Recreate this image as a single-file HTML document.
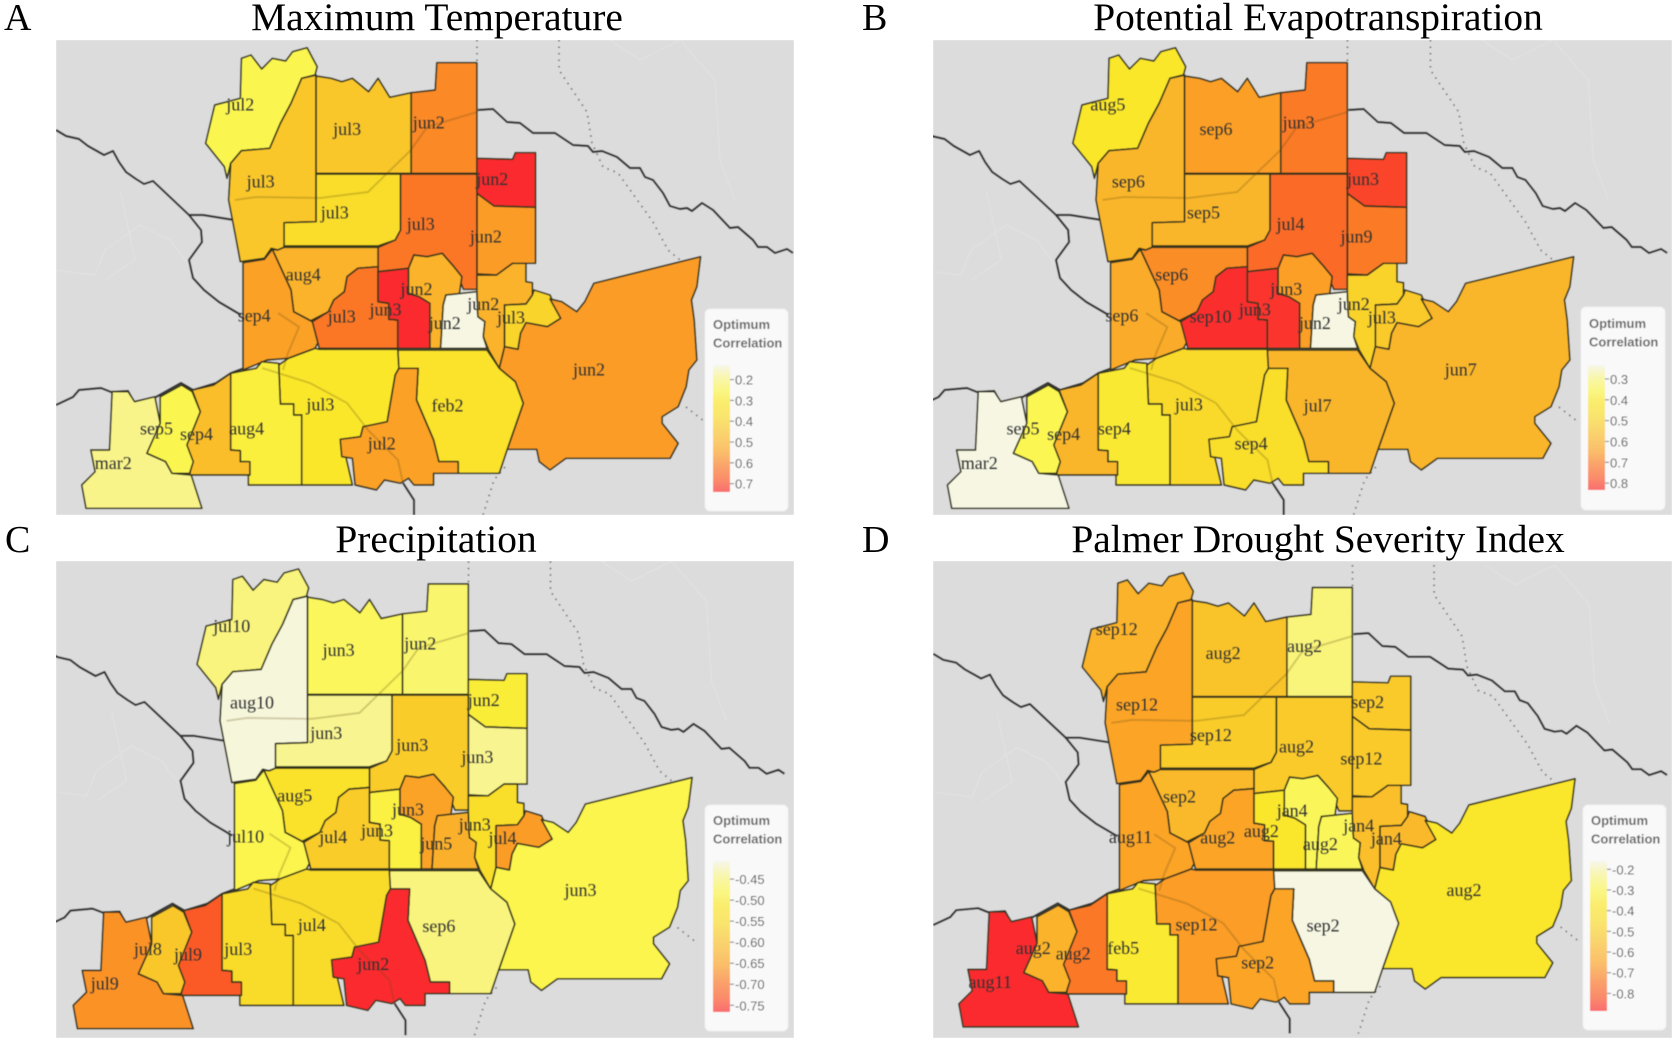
<!DOCTYPE html>
<html lang="en">
<head>
<meta charset="utf-8">
<title>Optimum Correlation Maps</title>
<style>
html,body{margin:0;padding:0;background:#fff;width:1675px;height:1043px;overflow:hidden;}
svg{display:block;}
.title{font-family:"Liberation Serif",serif;font-size:39.4px;fill:#000;text-anchor:middle;}
.letter{font-family:"Liberation Serif",serif;font-size:38px;fill:#000;}
.county-label{font-family:"Liberation Serif",serif;font-size:18px;fill:#333;text-anchor:middle;}
.legend-title{font-family:"Liberation Sans",sans-serif;font-size:13px;font-weight:bold;fill:#666;}
.legend-tick{font-family:"Liberation Sans",sans-serif;font-size:13px;fill:#555;}
</style>
</head>
<body>
<svg id="figure" xmlns="http://www.w3.org/2000/svg" width="1675" height="1043" viewBox="0 0 1675 1043">
  <defs>
    <filter id="soft" x="0" y="0" width="1675" height="1043" filterUnits="userSpaceOnUse"><feGaussianBlur stdDeviation="0.65"/></filter>
  </defs>
  <rect width="1675" height="1043" fill="#fff"/>
  <text class="letter" x="4" y="30">A</text>
  <text class="title" x="437" y="30">Maximum Temperature</text>
  <text class="letter" x="862" y="30">B</text>
  <text class="title" x="1318" y="30">Potential Evapotranspiration</text>
  <text class="letter" x="5" y="552">C</text>
  <text class="title" x="436" y="552">Precipitation</text>
  <text class="letter" x="862" y="552">D</text>
  <text class="title" x="1318" y="552">Palmer Drought Severity Index</text>
</svg>
<script>
/* Correlation values per county */
const maxTempValues = [.25,.44,.44,.59,.74,.56,.62,.37,.50,.55,.62,.74,.50,.13,.50,.40,.56,.33,.31,.55,.28,.47,.25,.19];
const petValues = [.41,.59,.65,.71,.80,.71,.74,.59,.68,.62,.83,.82,.65,.23,.50,.53,.59,.59,.48,.46,.40,.59,.35,.23];
const precipValues = [-.45,-.41,-.47,-.46,-.50,-.44,-.58,-.44,-.53,-.48,-.58,-.49,-.65,-.63,-.54,-.66,-.48,-.45,-.55,-.77,-.55,-.73,-.59,-.67];
const pdsiValues = [-.60,-.65,-.54,-.25,-.52,-.52,-.52,-.51,-.58,-.65,-.65,-.38,-.29,-.29,-.56,-.58,-.38,-.16,-.67,-.65,-.36,-.74,-.60,-.89];

/* Printed month labels per county */
const maxTempLabels = ["jul2","jul3","jul3","jun2","jun2","jun2","jul3","jul3","aug4","sep4","jul3","jun3","jun2","jun2","jun2","jul3","jun2","feb2","jul3","jul2","aug4","sep4","sep5","mar2"];
const petLabels = ["aug5","sep6","sep6","jun3","jun3","jun9","jul4","sep5","sep6","sep6","sep10","jun3","jun3","jun2","jun2","jul3","jun7","jul7","jul3","sep4","sep4","sep4","sep5","mar2"];
const precipLabels = ["jul10","aug10","jun3","jun2","jun2","jun3","jun3","jun3","aug5","jul10","jul4","jun3","jun3","jun5","jun3","jul4","jun3","sep6","jul4","jun2","jul3","jul9","jul8","jul9"];
const pdsiLabels = ["sep12","sep12","aug2","aug2","sep2","sep12","aug2","sep12","sep2","aug11","aug2","aug2","jan4","aug2","jan4","jan4","aug2","sep2","sep12","sep2","feb5","aug2","aug2","aug11"];

/* Legend tick values */
const maxTempTicks = [.2,.3,.4,.5,.6,.7];
const petTicks = [.3,.4,.5,.6,.7,.8];
const precipTicks = [-.45,-.50,-.55,-.60,-.65,-.70,-.75];
const pdsiTicks = [-.2,-.3,-.4,-.5,-.6,-.7,-.8];

/* Colour-scale domains: value at the top and bottom of each legend bar */
const maxTempDomain = [.13,.74];
const petDomain = [.233,.833];
const precipDomain = [-.407,-.766];
const pdsiDomain = [-.16,-.885];

/* Colour ramp */
const rampColors = ["#f6f6e3","#f8f488","#fbf64e","#fae62a","#f9dc2c","#f9c92c","#fab52a","#fb9e28","#fb7828","#fb5a28","#fb2c2e"];

/* Map geometry: county outlines in a shared map coordinate system */
const countyShapes = [
"452,175 470,165 490,207 510,175 535,183 548,155 575,143 594,200 590,225 565,235 545,310 525,370 505,445 452,452 432,490 425,535 420,500 385,430 402,315 450,295",
"565,235 592,225 592,665 535,668 532,742 520,750 508,745 495,775 450,785 440,700 428,600 432,490 452,452 505,445 525,370 545,310",
"592,228 620,235 640,245 660,235 690,275 708,235 730,292 770,278 770,520 592,520",
"770,278 815,270 818,188 893,188 893,520 770,520",
"893,475 960,478 965,458 1003,458 1003,622 925,618 893,580",
"893,580 925,618 1003,622 1003,790 960,790 930,825 893,822",
"750,522 893,522 893,868 868,868 850,800 828,760 800,770 775,765 765,805 708,815 708,742 740,720 750,690",
"592,522 750,522 750,690 740,720 708,738 532,738 532,668 592,665",
"532,742 708,742 708,800 670,805 650,830 645,875 625,900 615,935 582,962 550,935 545,870 510,748 520,750",
"455,788 495,778 510,748 545,870 550,935 585,965 598,1020 590,1045 540,1075 500,1080 455,1110",
"670,805 708,800 708,905 728,910 728,958 745,960 745,1045 598,1045 585,965 615,935 625,900 645,875 650,830",
"708,815 765,805 765,880 785,890 805,910 805,1045 745,1045 745,960 728,958 728,910 708,905",
"775,765 800,770 828,760 850,800 865,830 860,885 835,885 830,915 825,1045 805,1045 805,910 785,890 765,880 765,805",
"835,885 893,875 895,950 908,965 905,1010 912,1045 825,1045 830,915",
"893,825 930,825 960,790 985,790 985,845 997,848 997,885 985,912 945,915 945,1040 935,1105 915,1050 905,1010 908,965 895,950 893,875",
"945,915 985,912 997,885 1000,870 1030,885 1050,955 1025,980 985,968 975,1000 970,1048 945,1040",
"1030,897 1052,905 1080,935 1095,905 1112,850 1312,770 1305,860 1295,900 1300,960 1305,1080 1290,1110 1285,1160 1270,1220 1240,1250 1240,1270 1270,1330 1255,1375 1060,1375 1030,1410 1010,1385 1005,1348 950,1348 980,1210 965,1145 935,1105 945,1040 970,1048 975,1000 985,968 1025,980 1050,955",
"745,1050 912,1050 935,1105 965,1145 980,1210 950,1348 935,1420 858,1420 858,1385 822,1385 812,1320 780,1200 783,1105 745,1105",
"598,1048 745,1048 747,1105 740,1125 725,1265 705,1280 680,1280 675,1310 640,1318 660,1455 565,1455 565,1245 550,1245 550,1212 525,1212 522,1095 540,1075 590,1045",
"747,1105 783,1105 780,1200 812,1320 822,1385 858,1385 858,1420 812,1420 812,1455 775,1455 765,1435 750,1450 720,1440 705,1470 665,1455 660,1375 640,1370 637,1318 675,1310 680,1280 725,1265 740,1125",
"490,1085 522,1090 525,1212 550,1212 550,1245 565,1245 565,1455 465,1455 465,1385 450,1385 450,1352 432,1350 432,1120 480,1105",
"360,1170 400,1155 432,1120 432,1350 450,1352 450,1385 468,1385 468,1425 355,1425 360,1385 348,1340 375,1235",
"300,1190 340,1155 360,1175 375,1235 350,1335 362,1385 355,1420 322,1420 310,1385 275,1360 300,1270",
"210,1175 240,1175 252,1205 290,1190 300,1270 275,1360 310,1385 322,1420 358,1425 378,1525 161,1525 153,1455 178,1415 170,1350 205,1350"
];

/* Label anchors in the same map coordinate system */
const labelAnchors = [[450,332],[488,562],[650,405],[803,385],[922,555],[910,727],[788,690],[627,655],[568,842],[476,965],[640,967],[722,947],[780,885],[833,987],[905,930],[957,970],[1103,1127],[838,1235],[600,1232],[715,1348],[462,1303],[368,1320],[293,1303],[212,1407]];

/* Background map lines, traced in pixels of the first panel */
const riverLines = [
"56,130 66,136 79,139 88,146 104,155 113,151 119,162 126,172 136,179 144,184 153,181 171,198 189,215 203,215 234,220",
"189,215 201,230 202,242 189,260 193,278 204,290 219,302 241,315",
"478,110 493,109 507,122 520,123 533,133 555,133 573,145 588,146 593,152 602,151 617,157 630,168 640,168 645,177 653,180 663,193 670,206 680,209 687,208 692,211 702,203 713,210 730,228 738,227 753,240 758,247 767,247 775,253 787,249 793,253",
"56,405 73,397 79,390 101,388 111,392 128,391 134,402 156,397 181,383 193,390 216,383 231,373 266,360 289,357 309,353 319,349",
"403,483 414,500 414,515"
];
const dottedLines = [
"477,40 477,62",
"559,40 559,70 587,112 592,143 603,167 618,173 653,222 668,250 680,260",
"686,407 705,422",
"505,467 494,480 483,515"
];
const faintLines = [
"56,270 95,275 105,250 140,225 170,240 200,280",
"120,190 135,260 105,280",
"610,40 640,60 680,40 715,80 720,160 735,200"
];
const throughRoads = [
"235,200 256,197 320,198 368,192 411,150 427,127 477,112",
"262,368 310,383 347,403 368,430 398,460 403,483",
"278,313 299,327 288,353 283,370"
];

const SVG_NS = "http://www.w3.org/2000/svg";
const fig = document.getElementById("figure");

function rampColor(t){
  const c = Math.max(0, Math.min(1, t)) * (rampColors.length - 1);
  const i = Math.min(Math.floor(c), rampColors.length - 2);
  const f = c - i;
  const a = parseInt(rampColors[i].slice(1), 16), b = parseInt(rampColors[i + 1].slice(1), 16);
  const ch = s => Math.round(((a >> s) & 255) * (1 - f) + ((b >> s) & 255) * f);
  return "rgb(" + ch(16) + "," + ch(8) + "," + ch(0) + ")";
}
function make(tag, attrs, parent){
  const el = document.createElementNS(SVG_NS, tag);
  for (const k in attrs) el.setAttribute(k, attrs[k]);
  parent.appendChild(el);
  return el;
}
function mapPoints(str, toX, toY){
  return str.split(" ").map(p => { const q = p.split(","); return toX(+q[0]).toFixed(1) + "," + toY(+q[1]).toFixed(1); }).join(" ");
}
function drawPanel(cfg){
  const lineX = x => cfg.toX(x / .534);
  const lineY = y => cfg.toY(y * 3);
  const root = make("g", {}, fig);
  
  
  const clip = make("clipPath", {id: "clip-" + cfg.id}, root);
  make("rect", {x: cfg.box[0], y: cfg.box[1], width: cfg.box[2], height: cfg.box[3]}, clip);
  const map = make("g", {"clip-path": "url(#clip-" + cfg.id + ")", filter: "url(#soft)"}, root);
  const bg = make("rect", {x: cfg.box[0], y: cfg.box[1], width: cfg.box[2], height: cfg.box[3], fill: "#dcdcdc"}, map);
  
  
  faintLines.forEach(d => {
    const line = make("polyline", {points: mapPoints(d, lineX, lineY), fill: "none", stroke: "#e1e1e1", "stroke-width": 1.5}, map);
    
    
  });
  dottedLines.forEach(d => {
    const line = make("polyline", {points: mapPoints(d, lineX, lineY), fill: "none", stroke: "#666", "stroke-width": 1.7, "stroke-dasharray": "1.5 5"}, map);
    
    
  });
  riverLines.forEach(d => {
    const line = make("polyline", {points: mapPoints(d, lineX, lineY), fill: "none", stroke: "#333", "stroke-width": 2.2, "stroke-linejoin": "round"}, map);
    
    
  });
  countyShapes.forEach((shape, i) => {
    const t = (cfg.values[i] - cfg.domain[0]) / (cfg.domain[1] - cfg.domain[0]);
    const poly = make("polygon", {points: mapPoints(shape, cfg.toX, cfg.toY), fill: rampColor(t), stroke: "#35341f", "stroke-width": 1.7, "stroke-linejoin": "round"}, map);
    
    
  });
  throughRoads.forEach(d => {
    const line = make("polyline", {points: mapPoints(d, lineX, lineY), fill: "none", stroke: "rgba(90,70,10,.24)", "stroke-width": 2}, map);
    
    
  });
  const labels = make("g", {filter: "url(#soft)"}, root);
  cfg.labels.forEach((txt, i) => {
    const el = make("text", {class: "county-label", x: cfg.toX(labelAnchors[i][0]).toFixed(1), y: cfg.toY(labelAnchors[i][1]).toFixed(1)}, labels);
    el.textContent = txt;
    
    
  });
  /* legend */
  const lg = cfg.legend;
  const legend = make("g", {filter: "url(#soft)"}, root);
  
  
  const card = make("rect", {x: lg.x, y: lg.y, width: lg.w, height: lg.h, rx: 5, fill: "#f9f9f9", stroke: "#efefef"}, legend);
  
  
  const t1 = make("text", {class: "legend-title", x: lg.x + 8, y: lg.y + lg.titleY}, legend);
  t1.textContent = "Optimum";
  
  
  const t2 = make("text", {class: "legend-title", x: lg.x + 8, y: lg.y + lg.titleY + 18.5}, legend);
  t2.textContent = "Correlation";
  
  
  const grad = make("linearGradient", {id: "grad-" + cfg.id, x1: 0, y1: 0, x2: 0, y2: 1}, legend);
  for (let s = 0; s <= 20; s++) make("stop", {offset: s / 20, "stop-color": rampColor(s / 20)}, grad);
  const bar = make("rect", {x: lg.barX, y: lg.barY, width: 17, height: lg.barH, fill: "url(#grad-" + cfg.id + ")", opacity: .68}, legend);
  
  
  cfg.ticks.forEach(v => {
    const y = lg.barY + (v - cfg.domain[0]) / (cfg.domain[1] - cfg.domain[0]) * lg.barH;
    const tick = make("line", {x1: lg.barX + 17, x2: lg.barX + 21, y1: y, y2: y, stroke: "#777", "stroke-width": 1}, legend);
    
    
    const label = make("text", {class: "legend-tick", x: lg.barX + 22, y: y + 5}, legend);
    label.textContent = v.toFixed(cfg.decimals);
    
    
  });
}

drawPanel({id: "a", box: [56, 40, 738, 475], values: maxTempValues, labels: maxTempLabels, ticks: maxTempTicks, domain: maxTempDomain, decimals: 1,
  toX: x => .534 * x, toY: y => y / 3,
  legend: {x: 705, y: 309, w: 83, h: 202, titleY: 20, barX: 713, barY: 365, barH: 127}});
drawPanel({id: "b", box: [933, 40, 739, 475], values: petValues, labels: petLabels, ticks: petTicks, domain: petDomain, decimals: 1,
  toX: x => 838 + .534 * (1.012 * x + 50), toY: y => y / 3,
  legend: {x: 1581, y: 307, w: 84, h: 203, titleY: 21, barX: 1588, barY: 365, barH: 125}});
drawPanel({id: "c", box: [56, 561, 738, 477], values: precipValues, labels: precipLabels, ticks: precipTicks, domain: precipDomain, decimals: 2,
  toX: x => .534 * (x - 16), toY: y => 522 + (.998 * y - 2) / 3,
  legend: {x: 705, y: 805, w: 83, h: 226, titleY: 20, barX: 713, barY: 861, barH: 151}});
drawPanel({id: "d", box: [933, 561, 739, 477], values: pdsiValues, labels: pdsiLabels, ticks: pdsiTicks, domain: pdsiDomain, decimals: 1,
  toX: x => 838 + .534 * (.9957 * x + 74), toY: y => 522 + (.986 * y + 11) / 3,
  legend: {x: 1583, y: 805, w: 83, h: 225, titleY: 20, barX: 1590, barY: 861, barH: 150}});
</script>
</body>
</html>
